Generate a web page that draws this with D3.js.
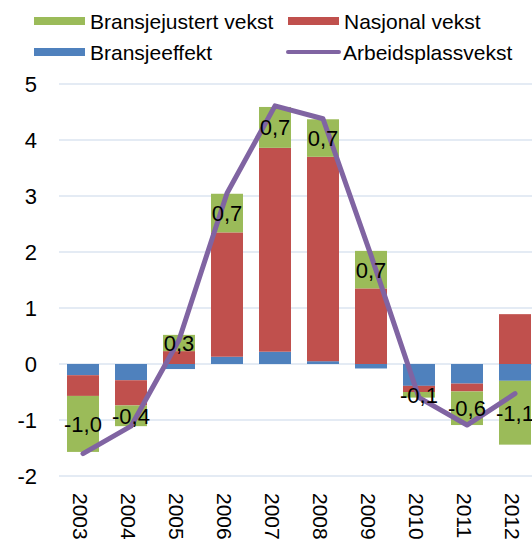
<!DOCTYPE html>
<html lang="en">
<head>
<meta charset="UTF-8">
<title>Arbeidsplassvekst</title>
<script src="https://d3js.org/d3.v7.min.js"></script>
<style>
  body { margin: 0; background: #fff; }
  svg text { font-family: "Liberation Sans", Arial, sans-serif; fill: #000; }
</style>
</head>
<body>
<svg width="532" height="544"></svg>
<script>
// data
const years = ["2003","2004","2005","2006","2007","2008","2009","2010","2011","2012"];
const bransjeeffekt   = [-0.20, -0.29, -0.09, 0.13, 0.22, 0.05, -0.08, -0.39, -0.35, -0.30];
const nasjonalVekst   = [-0.37, -0.45, 0.23, 2.22, 3.64, 3.65, 1.35, -0.11, -0.14, 0.89];
const bransjejustert  = [-1.00, -0.37, 0.29, 0.69, 0.73, 0.67, 0.67, -0.10, -0.60, -1.14];
const arbeidsplass    = [-1.60, -1.11, 0.43, 3.05, 4.61, 4.38, 1.94, -0.60, -1.09, -0.53];
const yTicks = [-2, -1, 0, 1, 2, 3, 4, 5];

const colors = { blue: "#4f81bd", red: "#c0504d", green: "#9bbb59", purple: "#8064a2" };

const svg = d3.select("svg");

const x = d3.scaleBand().domain(years).range([59, 539]).paddingInner(1/3).paddingOuter(1/6);
const y = d3.scaleLinear().domain([-2, 5]).range([476, 84]);

// gridlines
svg.append("g").selectAll("line")
  .data(yTicks)
  .enter().append("line")
    .attr("x1", 59).attr("x2", 539)
    .attr("y1", d => y(d)).attr("y2", d => y(d))
    .attr("stroke", "#dbe5f1").attr("stroke-width", 1.5);

// y labels
svg.append("g").selectAll("text")
  .data(yTicks)
  .enter().append("text")
    .attr("x", 37).attr("y", d => y(d))
    .attr("dy", "0.36em")
    .attr("text-anchor", "end")
    .style("font-size", "22px")
    .text(d => d);

// stacked bars (positives and negatives stacked apart, like Excel)
const rows = years.map((yr, i) => ({ year: yr, blue: bransjeeffekt[i], red: nasjonalVekst[i], green: bransjejustert[i] }));
const stack = d3.stack().keys(["blue", "red", "green"]).offset(d3.stackOffsetDiverging);
const series = stack(rows);

svg.append("g").selectAll("g")
  .data(series)
  .enter().append("g")
    .attr("fill", d => colors[d.key])
  .selectAll("rect")
  .data(d => d)
  .enter().append("rect")
    .attr("x", d => x(d.data.year))
    .attr("width", x.bandwidth())
    .attr("y", d => y(Math.max(d[0], d[1])))
    .attr("height", d => Math.abs(y(d[0]) - y(d[1])));

// line
const line = d3.line()
  .x((d, i) => x(years[i]) + x.bandwidth() / 2)
  .y(d => y(d));

svg.append("path")
  .datum(arbeidsplass)
  .attr("d", line)
  .attr("fill", "none")
  .attr("stroke", colors.purple)
  .attr("stroke-width", 5)
  .attr("stroke-linejoin", "round")
  .attr("stroke-linecap", "round");

// labels on the green segments
const greenSeries = series.find(s => s.key === "green");
svg.append("g").selectAll("text")
  .data(greenSeries)
  .enter().append("text")
    .attr("x", d => x(d.data.year) + x.bandwidth() / 2)
    .attr("y", d => y((d[0] + d[1]) / 2))
    .attr("dy", "0.36em")
    .attr("text-anchor", "middle")
    .style("font-size", "22px")
    .text(d => d3.format(".1f")(d.data.green).replace(".", ",").replace("−", "-"));

// x labels, rotated
svg.append("g").selectAll("text")
  .data(years)
  .enter().append("text")
    .attr("transform", d => `translate(${x(d) + x.bandwidth() / 2 - 10},493) rotate(90)`)
    .attr("text-anchor", "start")
    .style("font-size", "21px")
    .text(d => d);

// legend
const legend = [
  { name: "Bransjejustert vekst", color: colors.green, type: "rect", lx: 34, ly: 21 },
  { name: "Nasjonal vekst", color: colors.red, type: "rect", lx: 288, ly: 21 },
  { name: "Bransjeeffekt", color: colors.blue, type: "rect", lx: 34, ly: 52 },
  { name: "Arbeidsplassvekst", color: colors.purple, type: "line", lx: 287, ly: 52 }
];
const lg = svg.append("g").selectAll("g")
  .data(legend)
  .enter().append("g")
    .attr("transform", d => `translate(${d.lx},${d.ly})`);

lg.filter(d => d.type === "rect").append("rect")
  .attr("x", 0).attr("y", -4).attr("width", 51).attr("height", 8)
  .attr("fill", d => d.color);

lg.filter(d => d.type === "line").append("line")
  .attr("x1", 1).attr("x2", 52).attr("y1", 0).attr("y2", 0)
  .attr("stroke", d => d.color).attr("stroke-width", 4).attr("stroke-linecap", "round");

lg.append("text")
  .attr("x", 56)
  .attr("dy", "0.36em")
  .style("font-size", "21px")
  .text(d => d.name);
</script>
</body>
</html>
